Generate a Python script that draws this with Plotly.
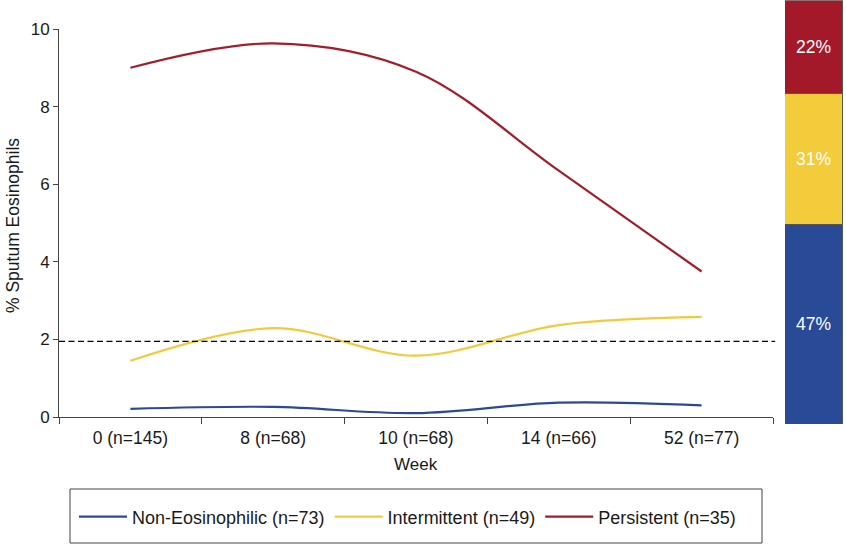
import plotly.graph_objects as go

# ---- data ----
weeks = ["0 (n=145)", "8 (n=68)", "10 (n=68)", "14 (n=66)", "52 (n=77)"]
non_eos = [0.21, 0.26, 0.10, 0.37, 0.30]
intermittent = [1.45, 2.29, 1.58, 2.37, 2.58]
persistent = [9.00, 9.63, 8.90, 6.35, 3.75]
series_names = ["Non-Eosinophilic (n=73)", "Intermittent (n=49)", "Persistent (n=35)"]
share_pct = [47, 31, 22]  # non-eos, intermittent, persistent
threshold = 1.95
y_ticks = [0, 2, 4, 6, 8, 10]

colors = ["#2b4a96", "#f1cb3c", "#a21e2b"]
bar_colors = ["#284a97", "#f2cc3a", "#a3192a"]

W, H = 846, 545
FONT = "Liberation Sans, Arial, Helvetica, sans-serif"

def px_x(p):
    return p / W

def px_y(p):
    return (H - p) / H

fig = go.Figure()

for name, vals, col in zip(series_names, [non_eos, intermittent, persistent], colors):
    fig.add_trace(go.Scatter(
        x=weeks, y=vals, name=name, mode="lines",
        line=dict(color=col, width=2.2, shape="spline", smoothing=1.0),
        xaxis="x", yaxis="y",
    ))

# stacked share bar on the right
for pct, col, name in zip(share_pct, bar_colors, series_names):
    fig.add_trace(go.Bar(
        x=[0], y=[pct], marker=dict(color=col, line=dict(color="#555555", width=1)),
        text=[f"{pct}%"], textposition="inside", insidetextanchor="middle",
        textfont=dict(color="white", size=17.5, family=FONT),
        width=1, showlegend=False, xaxis="x2", yaxis="y2", name=name,
        hoverinfo="skip",
    ))

fig.update_layout(
    width=W, height=H,
    margin=dict(l=0, r=0, t=0, b=0, autoexpand=False),
    paper_bgcolor="white", plot_bgcolor="white",
    font=dict(family=FONT, size=17, color="#1a1a1a"),
    barmode="stack", bargap=0,
    uniformtext=dict(mode=False),
    xaxis=dict(
        domain=[px_x(59), px_x(773)], type="category", range=[-0.5, 4.5],
        tickson="boundaries", ticks="outside", ticklen=6, tickcolor="#444",
        showline=True, linecolor="#444", linewidth=1, showgrid=False,
        zeroline=False, tickfont=dict(size=17.5), anchor="y", automargin=False,
        ticklabelstandoff=5,
    ),
    yaxis=dict(
        domain=[px_y(417), px_y(29)], range=[0, 10], tickvals=y_ticks,
        ticks="outside", ticklen=5, tickcolor="#444",
        showline=True, linecolor="#444", linewidth=1, showgrid=False,
        zeroline=False, tickfont=dict(size=17), anchor="x", automargin=False,
    ),
    xaxis2=dict(
        domain=[px_x(785), px_x(843)], range=[-0.5, 0.5], visible=False,
        anchor="y2",
    ),
    yaxis2=dict(
        domain=[px_y(424), px_y(0.5)], range=[0, 100], visible=False,
        anchor="x2",
    ),
    showlegend=True,
    legend=dict(
        orientation="h", x=px_x(74), xanchor="left", y=px_y(517), yanchor="middle",
        bgcolor="rgba(0,0,0,0)", borderwidth=0, font=dict(size=18),
        itemwidth=48, traceorder="normal",
    ),
    shapes=[
        dict(type="line", xref="x domain", yref="y", x0=0, x1=1.003,
             y0=threshold, y1=threshold,
             line=dict(color="black", width=1.3, dash="6px,3.5px")),
        dict(type="rect", xref="paper", yref="paper",
             x0=px_x(70), x1=px_x(762), y0=px_y(543), y1=px_y(489),
             line=dict(color="#444", width=1), fillcolor="rgba(0,0,0,0)"),
    ],
    annotations=[
        dict(text="% Sputum Eosinophils", xref="paper", yref="paper",
             x=px_x(13), y=px_y(226), textangle=-90, showarrow=False,
             xanchor="center", yanchor="middle", font=dict(size=17.5)),
        dict(text="Week", xref="x domain", yref="paper", x=0.5, y=px_y(464),
             showarrow=False, xanchor="center", yanchor="middle",
             font=dict(size=17)),
    ],
)

fig.write_html(
    "out.html",
    config={"displayModeBar": False},
    post_script="document.body.style.margin='0';document.body.style.padding='0';",
)
